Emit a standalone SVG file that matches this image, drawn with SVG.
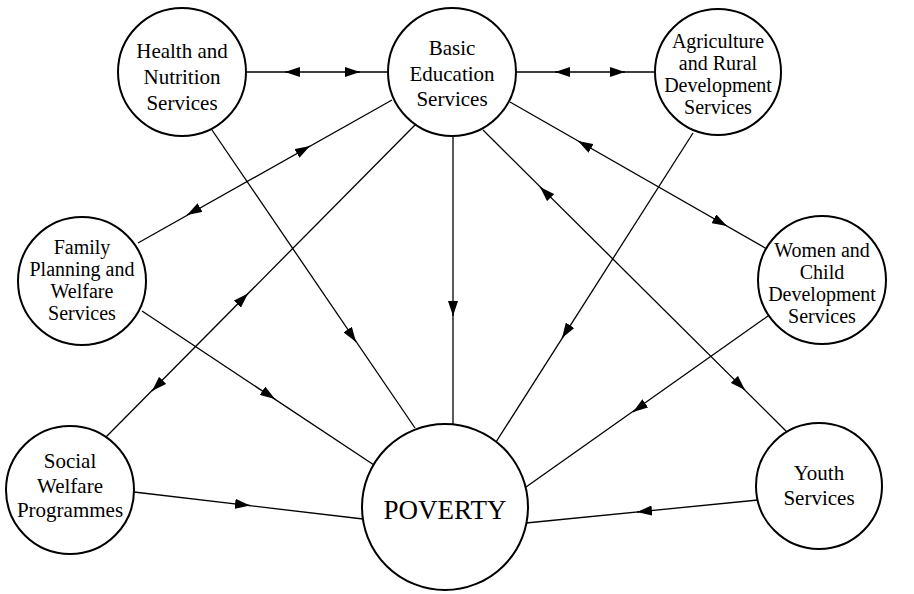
<svg xmlns="http://www.w3.org/2000/svg" width="914" height="594" viewBox="0 0 914 594">
<style>
.node circle{fill:#fff;stroke:#000;stroke-width:2}
.node text{font-family:"Liberation Serif","Times New Roman",serif;font-size:21px;text-anchor:middle;fill:#000}
.node text.s{font-size:20px}
#poverty text{font-size:27px}
#connectors line{stroke:#000;stroke-width:1.3;fill:none}
#connectors path{stroke:#000;stroke-width:1.3;fill:none;marker-end:url(#ah)}
</style>
<defs>
<marker id="ah" markerUnits="userSpaceOnUse" markerWidth="15" markerHeight="10" viewBox="0 0 15 10" refX="15" refY="5" orient="auto">
<path d="M0,0 L15,5 L0,10 z" fill="#000"/>
</marker>
</defs>
<rect width="914" height="594" fill="#fff"/>
<g id="connectors">
<line x1="246" y1="72" x2="388" y2="72"/>
<path d="M292,72 L285,72"/>
<path d="M353,72 L360,72"/>
<line x1="516" y1="72" x2="656" y2="72"/>
<path d="M562,72 L555,72"/>
<path d="M618,72 L625,72"/>
<line x1="212" y1="130" x2="415" y2="428"/>
<path d="M352,336 L356,342"/>
<line x1="138" y1="243" x2="392" y2="100"/>
<path d="M304,149.4 L310,146"/>
<path d="M193,211.6 L187,215"/>
<line x1="106" y1="437" x2="415" y2="125"/>
<path d="M243,298.5 L248,293.5"/>
<path d="M157,386 L152,391"/>
<line x1="453" y1="136" x2="453" y2="424"/>
<path d="M453,310 L453,316"/>
<line x1="510" y1="102" x2="767" y2="249"/>
<path d="M584,144.4 L578,141"/>
<path d="M721,222.7 L727,226"/>
<line x1="483" y1="130" x2="788" y2="433"/>
<path d="M545,192 L540,187"/>
<path d="M740,385 L745,390"/>
<line x1="693" y1="133" x2="496" y2="442"/>
<path d="M565.3,332.8 L562,338"/>
<line x1="142" y1="311" x2="374" y2="465"/>
<path d="M270,395.7 L275,399"/>
<line x1="768" y1="316" x2="526" y2="487"/>
<path d="M638,408.5 L633,412"/>
<line x1="134" y1="492" x2="363" y2="519"/>
<path d="M244,504.8 L250,505.5"/>
<line x1="758" y1="500" x2="526" y2="523"/>
<path d="M643,511.4 L637,512"/>
</g>
<g id="health" class="node">
<circle cx="182" cy="72" r="64"/>
<text x="182" y="58">Health and</text>
<text x="182" y="84">Nutrition</text>
<text x="182" y="110">Services</text>
</g>
<g id="education" class="node">
<circle cx="452" cy="72" r="64"/>
<text x="452" y="55">Basic</text>
<text x="452" y="81">Education</text>
<text x="452" y="106">Services</text>
</g>
<g id="agriculture" class="node">
<circle cx="718" cy="72" r="63"/>
<text class="s" x="718" y="48">Agriculture</text>
<text class="s" x="718" y="70">and Rural</text>
<text class="s" x="718" y="92">Development</text>
<text class="s" x="718" y="114">Services</text>
</g>
<g id="family" class="node">
<circle cx="82" cy="281" r="64"/>
<text class="s" x="82" y="254">Family</text>
<text class="s" x="82" y="276">Planning and</text>
<text class="s" x="82" y="298">Welfare</text>
<text class="s" x="82" y="320">Services</text>
</g>
<g id="women" class="node">
<circle cx="822" cy="280" r="64"/>
<text class="s" x="822" y="257">Women and</text>
<text class="s" x="822" y="279">Child</text>
<text class="s" x="822" y="301">Development</text>
<text class="s" x="822" y="323">Services</text>
</g>
<g id="social" class="node">
<circle cx="70" cy="490" r="64"/>
<text x="70" y="468">Social</text>
<text x="70" y="493">Welfare</text>
<text x="70" y="517">Programmes</text>
</g>
<g id="youth" class="node">
<circle cx="819" cy="486" r="63"/>
<text x="819" y="480">Youth</text>
<text x="819" y="505">Services</text>
</g>
<g id="poverty" class="node">
<circle cx="445" cy="507" r="83"/>
<text x="445" y="519">POVERTY</text>
</g>
</svg>
